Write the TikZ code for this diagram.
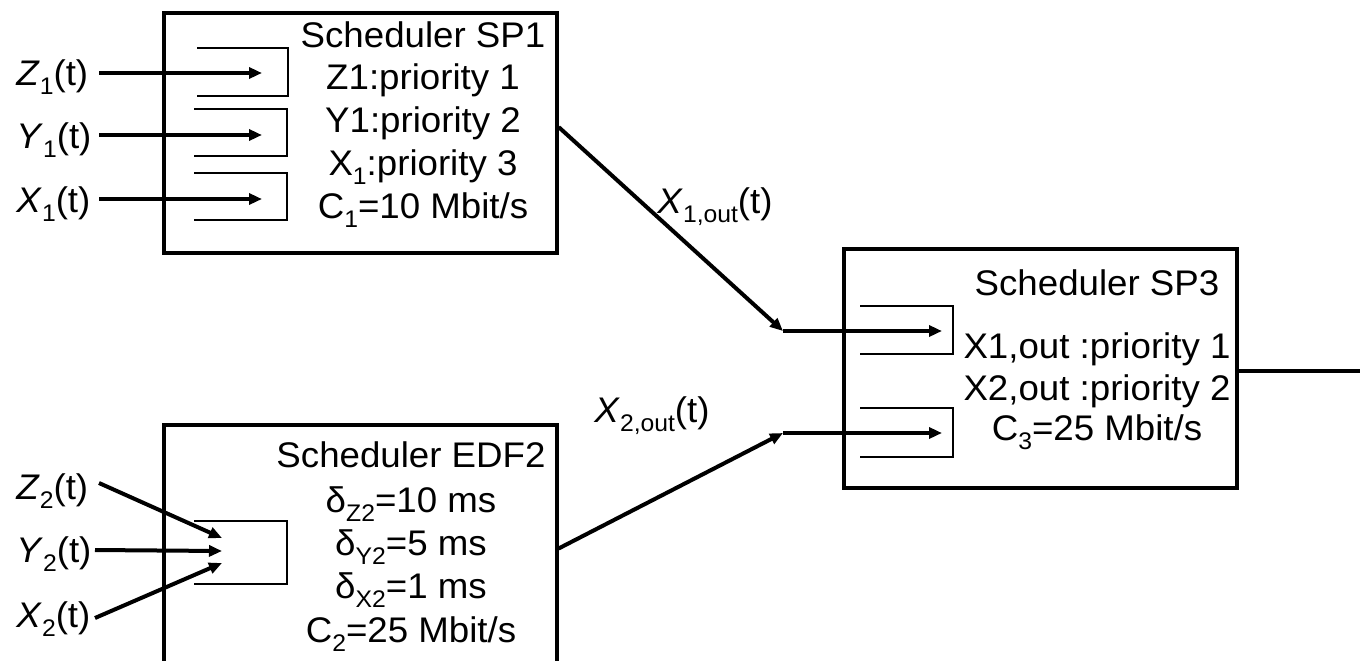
\documentclass[tikz,border=0pt]{standalone}
\usepackage{fontspec}
\setmainfont{Liberation Sans}[FakeStretch=1.03]
\usetikzlibrary{arrows.meta}
% lowered, smaller index text
\newcommand\lsub[1]{\raisebox{-0.28em}{\fontsize{12pt}{12pt}\selectfont #1}}
\begin{document}
\begin{tikzpicture}[x=0.5pt,y=-0.5pt,
  font=\fontsize{17.8pt}{21pt}\selectfont,
  box/.style={draw, line width=1.6pt, inner sep=0, minimum width=196.5pt},
  txt/.style={anchor=base, inner sep=0},
  lbl/.style={anchor=base west, inner sep=0},
  queue/.style={line width=0.8pt},
  flow/.style={line width=2pt, -{Triangle[length=6.5pt,width=5.5pt]}},
  link/.style={line width=2pt}]

\useasboundingbox (0,0) rectangle (1360,660);
\fill[white] (0,0) rectangle (1360,660);
\clip (0,0) rectangle (1360,660);

% scheduler boxes
\node[box, minimum height=120pt]   (sp1)  at (360.5,133)   {};
\node[box, minimum height=137.5pt] (edf2) at (360.5,562.5) {};
\node[box, minimum height=119.5pt] (sp3)  at (1040.5,368.5) {};

% ---- Scheduler SP1 ----
\draw[queue] (197,48)  -- (288,48)  -- (288,96)  -- (197,96);
\draw[queue] (194,109) -- (287,109) -- (287,156) -- (194,156);
\draw[queue] (194,173) -- (287,173) -- (287,220) -- (194,220);

\node[txt] (sp1t1) at (423,47)  {Scheduler SP1};
\node[txt] (sp1t2) at (423,89)  {Z1:priority 1};
\node[txt] (sp1t3) at (423,132) {Y1:priority 2};
\node[txt] (sp1t4) at (423,175) {X\lsub{1}:priority 3};
\node[txt] (sp1t5) at (423,218) {C\lsub{1}=10 Mbit/s};

\node[lbl] (lz1) at (16,85)  {\textit{Z}\lsub{1}(t)};
\node[lbl] (ly1) at (16,148) {\textit{Y}\lsub{1}(t)};
\node[lbl] (lx1) at (16,212) {\textit{X}\lsub{1}(t)};

\coordinate (sz1) at (99,73);   \coordinate (tz1) at (262,73);
\coordinate (sy1) at (99,135);  \coordinate (ty1) at (262,135);
\coordinate (sx1) at (99,199);  \coordinate (tx1) at (262,199);
\draw[flow] (sz1) -- (tz1);
\draw[flow] (sy1) -- (ty1);
\draw[flow] (sx1) -- (tx1);

% ---- Scheduler EDF2 ----
\draw[queue] (194,521) -- (287,521) -- (287,584) -- (194,584);

\node[txt] (edft1) at (411,467) {Scheduler EDF2};
\node[txt] (edft2) at (411,512) {δ\lsub{Z2}=10 ms};
\node[txt] (edft3) at (411,555) {δ\lsub{Y2}=5 ms};
\node[txt] (edft4) at (411,598) {δ\lsub{X2}=1 ms};
\node[txt] (edft5) at (411,642) {C\lsub{2}=25 Mbit/s};

\node[lbl] (lz2) at (16,499) {\textit{Z}\lsub{2}(t)};
\node[lbl] (ly2) at (16,562) {\textit{Y}\lsub{2}(t)};
\node[lbl] (lx2) at (16,627) {\textit{X}\lsub{2}(t)};

\coordinate (sz2) at (99,483);  \coordinate (tz2) at (222,538);
\coordinate (sy2) at (95,550);  \coordinate (ty2) at (222,551);
\coordinate (sx2) at (95,618);  \coordinate (tx2) at (222,563);
\draw[flow] (sz2) -- (tz2);
\draw[flow] (sy2) -- (ty2);
\draw[flow] (sx2) -- (tx2);

% ---- Scheduler SP3 ----
\draw[queue] (860,306) -- (953,306) -- (953,354) -- (860,354);
\draw[queue] (860,408) -- (953,408) -- (953,457) -- (860,457);

\node[txt] (sp3t1) at (1097,295) {Scheduler SP3};
\node[txt] (sp3t2) at (1097,358) {X1,out :priority 1};
\node[txt] (sp3t3) at (1097,400) {X2,out :priority 2};
\node[txt] (sp3t4) at (1097,440) {C\lsub{3}=25 Mbit/s};

% ---- links between schedulers ----
\coordinate (j1) at (783,331);  \coordinate (t31) at (942,331);
\coordinate (j2) at (783,433);  \coordinate (t32) at (942,433);
\draw[flow] ([yshift=3pt]sp1.east) -- (j1);
\draw[flow] ([yshift=7pt]edf2.east) -- (j2);
\draw[flow] (j1) -- (t31);
\draw[flow] (j2) -- (t32);

\node[lbl] (lx1o) at (657,213) {\textit{X}\lsub{1,out}(t)};
\node[lbl] (lx2o) at (594,422) {\textit{X}\lsub{2,out}(t)};

\coordinate (out) at (1362,371);
\draw[link] (sp3.east |- out) -- (out);
\end{tikzpicture}
\end{document}
